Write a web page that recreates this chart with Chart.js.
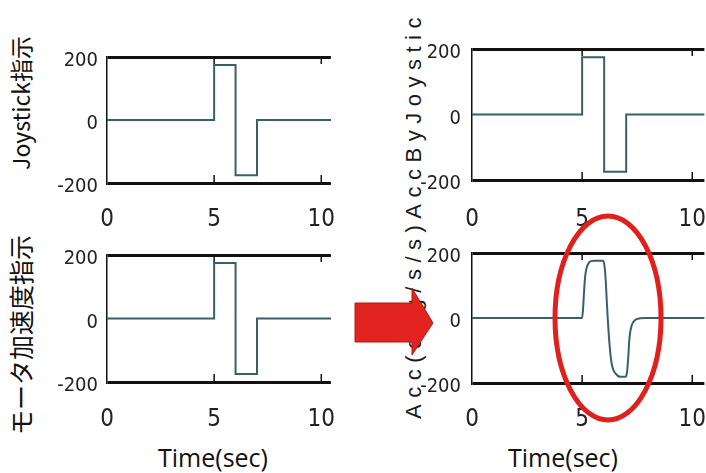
<!DOCTYPE html>
<html>
<head>
<meta charset="utf-8">
<script src="https://cdn.jsdelivr.net/npm/chart.js@4.4.1/dist/chart.umd.min.js"></script>
<style>
    body { margin: 0; background: #fff; }
    #lienzo { position: relative; width: 706px; height: 473px; overflow: hidden; background: #fff; }
    canvas { position: absolute; }
    .titulo { position: absolute; white-space: nowrap; color: #111; transform: translate(-50%, -50%); }
    .vertical { transform: translate(-50%, -50%) rotate(-90deg); }
</style>
</head>
<body>
<div id="lienzo">
    <div class="titulo vertical" style="left:20px; top:103px; font:23px 'Noto Sans CJK JP', 'Noto Sans';">Joystick指示</div>
    <div class="titulo vertical" style="left:20px; top:335px; font:25px 'Noto Sans CJK JP', 'Noto Sans';">モータ加速度指示</div>
    <div class="titulo vertical" style="left:414px; top:215px; font:22px 'Liberation Sans', Arial; letter-spacing:6.5px; color:#1a1a1a;">Acc(deg/s/s)AccByJoystic</div>
    <div class="titulo" style="left:213px; top:457px; font:25px 'Open Sans', 'Noto Sans';">Time(sec)</div>
    <div class="titulo" style="left:563px; top:457px; font:25px 'Open Sans', 'Noto Sans';">Time(sec)</div>
</div>
<script>
// Datos
const xTicks = [0, 5, 10];
const yTicks = [-200, 0, 200];

// Señal escalonada (Joystick y orden de aceleración)
const stepT = [0, 5, 5, 6, 6, 7, 7, 10.6];
const stepV = [0, 0, 175, 175, -175, -175, 0, 0];

// Aceleración suavizada (panel inferior derecho)
const accT = [0, 5.0, 5.045, 5.09, 5.135, 5.195, 5.285, 5.39, 5.54, 5.96, 6.02, 6.07, 6.11, 6.16,
    6.22, 6.29, 6.37, 6.52, 6.74, 6.97, 7.04, 7.09, 7.15, 7.24, 7.39, 7.64, 7.87, 10.6];
const accV = [0, 0, 32, 84, 126, 152, 168, 175, 176, 176, 157, 116, 64, 0,
    -61, -114, -150, -171, -181, -181, -166, -124, -61, -25, -7, -1, 0, 0];

const LINEA = '#36606a';
const NEGRO = '#111';
const YW = 60, PT = 14, XH = 56;

function puntos(ts, vs) {
    return ts.map((t, i) => ({ x: t, y: vs[i] }));
}

// Marcas interiores en los ejes superior e inferior
const marcasInternas = {
    id: 'marcasInternas',
    afterDraw(chart) {
        const { ctx, chartArea, scales } = chart;
        ctx.save();
        ctx.strokeStyle = NEGRO;
        ctx.lineWidth = 1.5;
        xTicks.filter(v => v > 0).forEach(v => {
            const px = scales.x.getPixelForValue(v);
            ctx.beginPath();
            ctx.moveTo(px, chartArea.top);
            ctx.lineTo(px, chartArea.top + 7);
            ctx.moveTo(px, chartArea.bottom);
            ctx.lineTo(px, chartArea.bottom - 8);
            ctx.stroke();
        });
        ctx.restore();
    }
};

function crearPanel(p, ts, vs, suave) {
    const canvas = document.createElement('canvas');
    const w = (p.r - p.l) + YW;
    const h = (p.b - p.t) + PT + XH;
    canvas.width = w;
    canvas.height = h;
    canvas.style.left = (p.l - YW) + 'px';
    canvas.style.top = (p.t - PT) + 'px';
    canvas.style.width = w + 'px';
    canvas.style.height = h + 'px';
    document.getElementById('lienzo').appendChild(canvas);

    const familia = "'DejaVu Sans Condensed', 'Liberation Sans Narrow', sans-serif";
    const transparente = 'rgba(0,0,0,0)';

    return new Chart(canvas, {
        type: 'line',
        data: {
            datasets: [{
                data: puntos(ts, vs),
                borderColor: LINEA,
                borderWidth: 2,
                pointRadius: 0,
                tension: 0,
                cubicInterpolationMode: suave ? 'monotone' : 'default'
            }]
        },
        options: {
            responsive: false,
            animation: false,
            devicePixelRatio: 1,
            layout: { padding: { top: PT, left: 0, right: 0, bottom: 0 } },
            plugins: { legend: { display: false }, tooltip: { enabled: false } },
            scales: {
                x: {
                    type: 'linear',
                    min: 0,
                    max: p.xMax,
                    afterBuildTicks: s => { s.ticks = xTicks.map(v => ({ value: v })); },
                    afterFit: s => { s.height = XH; },
                    // las marcas transparentes sólo separan las etiquetas del eje
                    grid: { display: true, drawOnChartArea: false, drawTicks: true, tickLength: p.xPad, tickColor: transparente },
                    border: { display: false },
                    ticks: { color: '#222', font: { family: familia, size: 24 }, padding: 0, maxRotation: 0 }
                },
                y: {
                    min: -200,
                    max: 200,
                    afterBuildTicks: s => { s.ticks = yTicks.map(v => ({ value: v })); },
                    afterFit: s => { s.width = YW; },
                    grid: {
                        drawTicks: true,
                        tickLength: p.yPad,
                        tickColor: transparente,
                        lineWidth: 3,
                        color: c => Math.abs(c.tick.value) === 200 ? NEGRO : transparente
                    },
                    border: { display: true, color: NEGRO, width: 1.5 },
                    ticks: { color: '#222', font: { family: familia, size: 20 }, padding: 0, labelOffset: 4 }
                }
            }
        },
        plugins: [marcasInternas]
    });
}

crearPanel({ l: 107, t: 57, r: 335, b: 183, xMax: 10.45, xPad: 22, yPad: 9 }, stepT, stepV, false);
crearPanel({ l: 472, t: 49, r: 706, b: 180, xMax: 10.55, xPad: 25, yPad: 11 }, stepT, stepV, false);
crearPanel({ l: 107, t: 255, r: 335, b: 382, xMax: 10.45, xPad: 23, yPad: 9 }, stepT, stepV, false);
crearPanel({ l: 472, t: 253, r: 706, b: 383, xMax: 10.55, xPad: 22, yPad: 11 }, accT, accV, true);

// Flecha roja y elipse de resaltado (decoración)
const capa = document.createElement('canvas');
capa.width = 706;
capa.height = 473;
capa.style.left = '0px';
capa.style.top = '0px';
document.getElementById('lienzo').appendChild(capa);
const g = capa.getContext('2d');

g.beginPath();
g.moveTo(355, 303);
g.lineTo(412, 303);
g.lineTo(412, 288);
g.lineTo(433, 323);
g.lineTo(412, 355);
g.lineTo(412, 342);
g.lineTo(355, 342);
g.closePath();
g.fillStyle = '#e3231f';
g.fill();
g.strokeStyle = '#b31a17';
g.lineWidth = 1;
g.stroke();

g.beginPath();
g.ellipse(608, 318, 53, 102, 0, 0, Math.PI * 2);
g.strokeStyle = '#e0201c';
g.lineWidth = 5;
g.stroke();
</script>
</body>
</html>
